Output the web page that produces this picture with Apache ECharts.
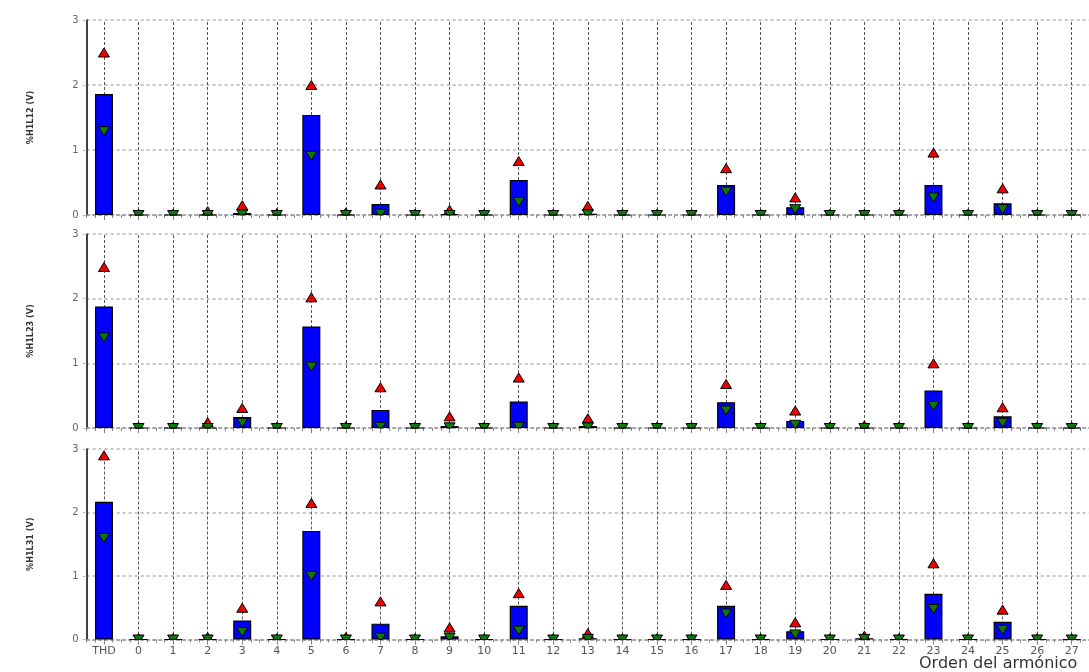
<!DOCTYPE html>
<html>
<head>
<meta charset="utf-8">
<script src="https://cdn.jsdelivr.net/npm/echarts@6/dist/echarts.min.js"></script>
<style>
html, body { margin: 0; padding: 0; background: #fff; }
#harmonics_chart { width: 1089px; height: 672px; }
</style>
</head>
<body>
<div id="harmonics_chart"></div>
<script>
// categorías: THD y orden del armónico
var categories = ['THD','0','1','2','3','4','5','6','7','8','9','10','11','12','13',
    '14','15','16','17','18','19','20','21','22','23','24','25','26','27'];

var panel_names = ['%H1L12 (V)', '%H1L23 (V)', '%H1L31 (V)'];
var x_title = 'Orden del armónico';
var y_min = 0, y_max = 3, y_step = 1;

// L12: media (barra), máximo (triángulo rojo), mínimo (triángulo verde)
var avg_L12 = [1.86,0,0,0,0.03,0,1.54,0,0.17,0,0.01,0,0.54,0,0.02,0,0,0,0.46,0,0.12,0,0,0,0.46,0,0.18,0,0];
var max_L12 = [2.5,0.02,0.02,0.06,0.15,0.03,2.0,0.04,0.47,0.02,0.08,0.02,0.83,0.02,0.14,0.02,0.02,0.02,0.72,0.02,0.27,0.02,0.02,0.02,0.96,0.02,0.41,0.02,0.02];
var min_L12 = [1.29,0,0,0,0.01,0,0.91,0,0.02,0,0,0,0.2,0,0.01,0,0,0,0.36,0,0.09,0,0,0,0.27,0,0.09,0,0];

// L23
var avg_L23 = [1.88,0,0,0,0.17,0,1.57,0,0.28,0,0.03,0,0.41,0,0.03,0,0,0,0.4,0,0.11,0,0,0,0.58,0,0.18,0,0];
var max_L23 = [2.49,0.02,0.02,0.09,0.31,0.02,2.02,0.03,0.63,0.02,0.18,0.02,0.78,0.02,0.15,0.02,0.02,0.02,0.68,0.02,0.27,0.02,0.04,0.02,1.0,0.02,0.32,0.02,0.02];
var min_L23 = [1.4,0,0,0,0.08,0,0.95,0,0.02,0,0.01,0,0.02,0,0.01,0,0,0,0.27,0,0.05,0,0,0,0.34,0,0.08,0,0];

// L31
var avg_L31 = [2.17,0,0,0,0.3,0,1.71,0,0.25,0,0.05,0,0.53,0,0.02,0,0,0,0.53,0,0.13,0,0.02,0,0.72,0,0.28,0,0];
var max_L31 = [2.9,0.02,0.02,0.04,0.5,0.02,2.15,0.04,0.6,0.02,0.19,0.02,0.73,0.02,0.1,0.02,0.02,0.02,0.86,0.02,0.27,0.02,0.06,0.02,1.2,0.02,0.47,0.02,0.02];
var min_L31 = [1.6,0,0,0,0.12,0,1.0,0,0.03,0,0.03,0,0.14,0,0.01,0,0,0,0.41,0,0.08,0,0.01,0,0.48,0,0.15,0,0];

var avg_data = [avg_L12, avg_L23, avg_L31];
var max_data = [max_L12, max_L23, max_L31];
var min_data = [min_L12, min_L23, min_L31];

var grid_tops = [20, 234, 449];
var grid_heights = [195, 194, 190.5];

function pairs(values) {
    return values.map(function (v, i) { return [i, v]; });
}

// recorta un polígono por debajo de la línea y = yb
function clipBelow(pts, yb) {
    var out = [];
    for (var k = 0; k < pts.length; k++) {
        var a = pts[k], b = pts[(k + 1) % pts.length];
        var a_in = a[1] <= yb, b_in = b[1] <= yb;
        if (a_in) out.push(a);
        if (a_in !== b_in) {
            var t = (yb - a[1]) / (b[1] - a[1]);
            out.push([a[0] + t * (b[0] - a[0]), yb]);
        }
    }
    return out;
}

// triángulo hacia arriba (máx) o hacia abajo (mín), recortado en el eje x
function triangle(up, color) {
    return function (params, api) {
        var p = api.coord([api.value(0), api.value(1)]);
        var cs = params.coordSys;
        var w = 5.5, h = 4.5;
        var pts = up
            ? [[p[0], p[1] - h], [p[0] + w, p[1] + h], [p[0] - w, p[1] + h]]
            : [[p[0] - w, p[1] - h], [p[0] + w, p[1] - h], [p[0], p[1] + h]];
        pts = clipBelow(pts, cs.y + cs.height);
        if (pts.length < 3) return null;
        return {
            type: 'polygon',
            shape: { points: pts },
            style: { fill: color, stroke: '#000', lineWidth: 1 }
        };
    };
}

var grids = [], x_axes = [], minor_axes = [], y_axes = [], series = [];

for (var i = 0; i < 3; i++) {
    grids.push({ left: 86.7, width: 1006, top: grid_tops[i], height: grid_heights[i] });

    x_axes.push({
        type: 'category',
        gridIndex: i,
        data: categories,
        axisLine: { show: true, lineStyle: { color: '#999', type: [3, 3], width: 1.5 } },
        axisTick: { show: true, alignWithLabel: true, length: 5, lineStyle: { color: '#777' } },
        axisLabel: { show: i === 2, interval: 0, fontSize: 11, color: '#555', margin: 6, fontFamily: 'DejaVu Sans' },
        splitLine: { show: false }
    });

    // marcas menores del eje x
    minor_axes.push({
        type: 'value',
        gridIndex: i,
        position: 'bottom',
        min: 0,
        max: categories.length * 4,
        interval: 1,
        axisLine: { show: false },
        axisTick: { show: true, length: 3, lineStyle: { color: '#888' } },
        axisLabel: { show: false },
        splitLine: { show: false }
    });

    y_axes.push({
        type: 'value',
        gridIndex: i,
        min: y_min,
        max: y_max,
        interval: y_step,
        name: panel_names[i],
        nameLocation: 'middle',
        nameGap: 52,
        nameRotate: 90,
        nameTextStyle: { fontSize: 9, fontWeight: 'bold', color: '#333', fontFamily: 'DejaVu Sans Condensed' },
        axisLine: { show: true, lineStyle: { color: '#000', width: 1.5 } },
        axisTick: { show: true, length: 4, lineStyle: { color: '#bbb' } },
        axisLabel: { fontSize: 10, color: '#666', margin: 8, fontFamily: 'DejaVu Sans' },
        splitLine: { show: true, lineStyle: { color: '#c8c8c8', width: 2, type: [3, 3] } }
    });

    series.push({
        name: 'media ' + panel_names[i],
        type: 'bar',
        xAxisIndex: i,
        yAxisIndex: i,
        barWidth: 18,
        itemStyle: { color: '#0000ff', borderColor: '#000', borderWidth: 1.2 },
        data: avg_data[i],
        markLine: {
            silent: true,
            z: 1,
            symbol: ['none', 'none'],
            label: { show: false },
            lineStyle: { color: '#555', type: [3, 2], width: 1 },
            data: categories.map(function (c) { return { xAxis: c }; })
        }
    });

    series.push({
        name: 'max ' + panel_names[i],
        type: 'custom',
        xAxisIndex: i,
        yAxisIndex: i,
        z: 3,
        renderItem: triangle(true, '#ee0000'),
        encode: { x: 0, y: 1 },
        data: pairs(max_data[i])
    });

    series.push({
        name: 'min ' + panel_names[i],
        type: 'custom',
        xAxisIndex: i,
        yAxisIndex: i,
        z: 4,
        renderItem: triangle(false, '#0a7a0a'),
        encode: { x: 0, y: 1 },
        data: pairs(min_data[i])
    });
}

var harmonics_option = {
    animation: false,
    backgroundColor: '#fff',
    title: {
        text: x_title,
        left: 914,
        top: 651,
        textStyle: { fontSize: 16, fontWeight: 'normal', color: '#333', fontFamily: 'DejaVu Sans' }
    },
    grid: grids,
    xAxis: x_axes.concat(minor_axes),
    yAxis: y_axes,
    series: series
};

var harmonics_chart = echarts.init(document.getElementById('harmonics_chart'));
harmonics_chart.setOption(harmonics_option);
</script>
</body>
</html>
